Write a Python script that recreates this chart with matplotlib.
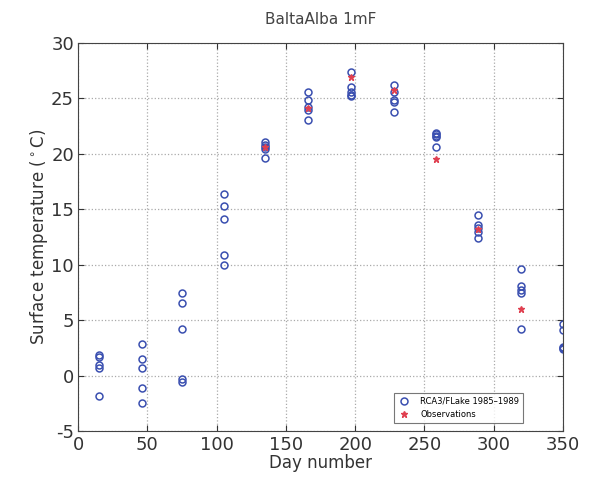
import matplotlib
matplotlib.use("Agg")
import matplotlib.pyplot as plt
import numpy as np

plt.rcParams["axes.unicode_minus"] = False

# Model days and values (5 years per day, 1985-1989)
model_days = [15, 46, 75, 105, 135, 166, 197, 228, 258, 289, 320, 350]
model_vals = [
    [1.9, 1.7, 1.0, 0.7, -1.8],
    [2.9, 1.5, 0.7, -1.1, -2.5],
    [7.5, 6.6, 4.2, -0.3, -0.6],
    [16.4, 15.3, 14.1, 10.9, 10.0],
    [21.1, 20.8, 20.6, 20.4, 19.6],
    [25.6, 24.9, 24.2, 24.0, 23.1],
    [27.4, 26.0, 25.6, 25.2, 25.3],
    [26.2, 25.6, 24.9, 24.7, 23.8],
    [21.9, 21.8, 21.6, 21.5, 20.6],
    [14.5, 13.6, 13.3, 12.4, 13.0],
    [9.6, 8.1, 7.5, 4.2, 7.7],
    [4.7, 4.1, 2.6, 2.5, 2.4],
]
obs_days = [135, 166, 197, 228, 258, 289, 320]
obs_vals = [20.6, 24.1, 26.9, 25.8, 19.5, 13.2, 6.0]

title = "BaltaAlba 1mF"
xlabel = "Day number"
ylabel = "Surface temperature ($^\\circ$C)"
xticks = [0, 50, 100, 150, 200, 250, 300, 350]
yticks = [-5, 0, 5, 10, 15, 20, 25, 30]

fig = plt.figure(figsize=(5.92, 4.78), dpi=100)
ax = fig.add_axes([0.132, 0.098, 0.819, 0.812])

mx = np.repeat(model_days, [len(v) for v in model_vals])
my = np.concatenate(model_vals)
ax.plot(mx, my, linestyle="none", marker="o", markersize=5, markerfacecolor="none",
        markeredgecolor="#3a4fb0", markeredgewidth=1.1, label="RCA3/FLake 1985\u20131989")
ax.plot(obs_days, obs_vals, linestyle="none", marker="*", markersize=5,
        color="#e04050", label="Observations")

ax.set_xlim(0, 350)
ax.set_ylim(-5, 30)
ax.set_xticks(xticks)
ax.set_yticks(yticks)
ax.tick_params(labelsize=13, direction="in", length=4, colors="#333333",
               top=True, right=True)
ax.tick_params(axis="x", pad=3.5)
ax.tick_params(axis="y", pad=3)
ax.grid(True, linestyle=":", color="#aaaaaa", linewidth=0.9)
for s in ax.spines.values():
    s.set_color("#444444")

ax.set_title(title, fontsize=11, color="#444444", pad=14)
ax.set_xlabel(xlabel, fontsize=12, color="#333333", labelpad=0)
ax.set_ylabel(ylabel, fontsize=12, color="#333333", labelpad=1)

leg = ax.legend(loc="lower right", fontsize=6, frameon=True, fancybox=False,
                edgecolor="#555555", borderpad=0.5, handlelength=1.5,
                handletextpad=1.2, bbox_to_anchor=(0.927, 0.01))
leg.get_frame().set_linewidth(0.8)

fig.savefig("out.png", dpi=100)
